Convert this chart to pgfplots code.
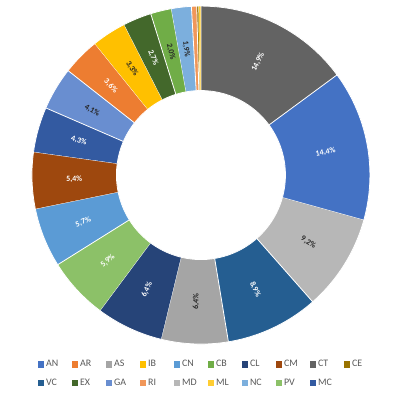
\documentclass[border=0pt]{standalone}
\usepackage{pgfplots}
\pgfplotsset{compat=1.18}
\usepackage{fontspec}
\setmainfont{Carlito}
\definecolor{cAN}{HTML}{4472C4}
\definecolor{cAR}{HTML}{ED7D31}
\definecolor{cAS}{HTML}{A5A5A5}
\definecolor{cIB}{HTML}{FFC000}
\definecolor{cCN}{HTML}{5B9BD5}
\definecolor{cCB}{HTML}{70AD47}
\definecolor{cCL}{HTML}{264478}
\definecolor{cCM}{HTML}{9E480E}
\definecolor{cCT}{HTML}{636363}
\definecolor{cCE}{HTML}{997300}
\definecolor{cVC}{HTML}{255E91}
\definecolor{cEX}{HTML}{43682B}
\definecolor{cGA}{HTML}{698ED0}
\definecolor{cRI}{HTML}{F1975A}
\definecolor{cMD}{HTML}{B7B7B7}
\definecolor{cML}{HTML}{FFCD33}
\definecolor{cNC}{HTML}{7CAFDD}
\definecolor{cPV}{HTML}{8CC168}
\definecolor{cMC}{HTML}{335AA1}
\definecolor{legtext}{HTML}{595959}
\definecolor{darklab}{HTML}{262626}
% #1 start (cumulative %), #2 value (%), #3 colour, #4 legend name
\newcommand{\slice}[4]{%
  \addplot[fill=#3, draw=white, line width=0.8bp, domain=0:3, samples=91, variable=\t]
  ({(\t<1 ? 1 : (\t<2 ? 1-0.5*(\t-1) : 0.5))*cos(90-3.6*(\t<1 ? #1+#2*\t : (\t<2 ? #1+#2 : #1+#2*(3-\t))))},
   {(\t<1 ? 1 : (\t<2 ? 1-0.5*(\t-1) : 0.5))*sin(90-3.6*(\t<1 ? #1+#2*\t : (\t<2 ? #1+#2 : #1+#2*(3-\t))))});
  \addlegendentry{\makebox[17bp][l]{#4}}
}
% #1 start, #2 value, #3 text, #4 text colour
\newcommand{\lab}[4]{%
  \node[text=#4, font=\bfseries\fontsize{8}{9}\selectfont, inner sep=0pt,
        rotate={cos(90-3.6*(#1+#2/2))<0 ? 270-3.6*(#1+#2/2) : 90-3.6*(#1+#2/2)}]
    at (axis cs:{0.75*cos(90-3.6*(#1+#2/2))},{0.75*sin(90-3.6*(#1+#2/2))}) {#3};
}
\begin{document}
\begin{tikzpicture}
\useasboundingbox (0,0) rectangle (400bp,400bp);
\begin{axis}[
  at={(0,0)}, anchor=south west,
  x=169bp, y=169bp,
  xmin=-1.189, xmax=1.178, ymin=-1.331, ymax=1.036,
  hide axis, clip=false,
  area legend,
  legend columns=10,
  legend image code/.code={\path[#1, draw=none] (0bp,-3bp) rectangle (6.5bp,3.5bp);},
  legend style={draw=none, fill=none, at={(axis cs:0.02,-1.177)}, anchor=center,
    font=\fontsize{10}{11}\selectfont, text=legtext,
    /tikz/every even column/.append style={column sep=6.5bp},
    row sep=7bp},
]
\slice{14.9}{14.4}{cAN}{AN}
\slice{85.6}{3.6}{cAR}{AR}
\slice{47.4}{6.4}{cAS}{AS}
\slice{89.2}{3.3}{cIB}{IB}
\slice{66.1}{5.7}{cCN}{CN}
\slice{95.2}{2.0}{cCB}{CB}
\slice{53.8}{6.4}{cCL}{CL}
\slice{71.8}{5.4}{cCM}{CM}
\slice{0}{14.9}{cCT}{CT}
\slice{99.6}{0.2}{cCE}{CE}
\slice{38.5}{8.9}{cVC}{VC}
\slice{92.5}{2.7}{cEX}{EX}
\slice{81.5}{4.1}{cGA}{GA}
\slice{99.1}{0.5}{cRI}{RI}
\slice{29.3}{9.2}{cMD}{MD}
\slice{99.8}{0.2}{cML}{ML}
\slice{97.2}{1.9}{cNC}{NC}
\slice{60.2}{5.9}{cPV}{PV}
\slice{77.2}{4.3}{cMC}{MC}
\lab{0}{14.9}{14,9\%}{white}
\lab{14.9}{14.4}{14,4\%}{white}
\lab{29.3}{9.2}{9,2\%}{darklab}
\lab{38.5}{8.9}{8,9\%}{white}
\lab{47.4}{6.4}{6,4\%}{darklab}
\lab{53.8}{6.4}{6,4\%}{white}
\lab{60.2}{5.9}{5,9\%}{white}
\lab{66.1}{5.7}{5,7\%}{white}
\lab{71.8}{5.4}{5,4\%}{white}
\lab{77.2}{4.3}{4,3\%}{white}
\lab{81.5}{4.1}{4,1\%}{darklab}
\lab{85.6}{3.6}{3,6\%}{white}
\lab{89.2}{3.3}{3,3\%}{darklab}
\lab{92.5}{2.7}{2,7\%}{white}
\lab{95.2}{2.0}{2,0\%}{darklab}
\lab{97.2}{1.9}{1,9\%}{darklab}
\end{axis}
\end{tikzpicture}
\end{document}
